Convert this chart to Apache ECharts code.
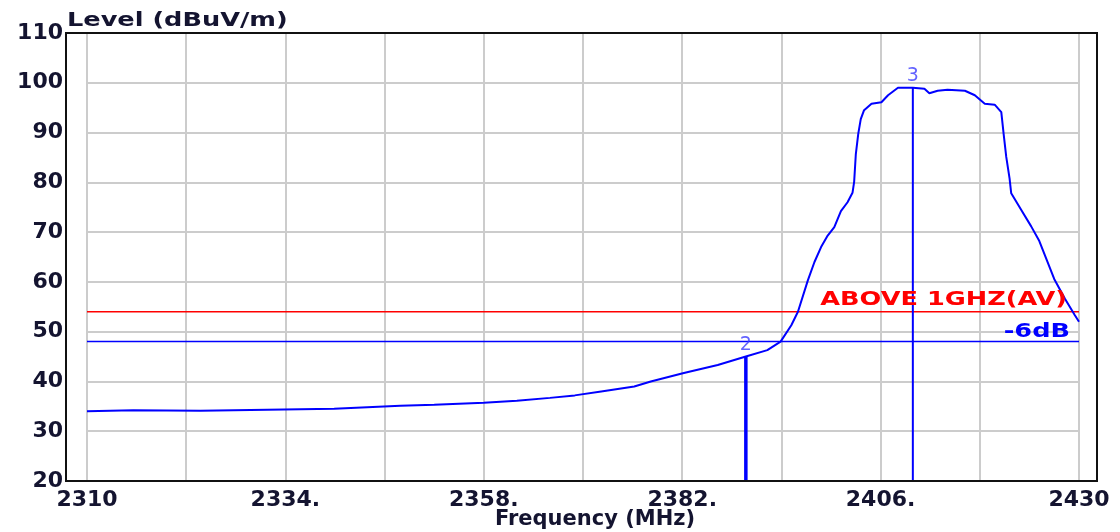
<!DOCTYPE html>
<html>
<head>
<meta charset="utf-8">
<script src="https://cdn.jsdelivr.net/npm/echarts@6/dist/echarts.min.js"></script>
<style>
html,body{margin:0;padding:0;background:#fff;}
#chart{width:1120px;height:532px;}
</style>
</head>
<body>
<div id="chart"></div>
<script>
// ---- data ----
var freqs = [2310, 2315.6, 2323.7, 2331.8, 2339.9, 2343.9, 2347.9, 2352, 2358, 2362, 2366, 2369, 2372.2, 2376.2, 2378.2, 2382.2, 2386.3, 2389.7, 2392.3, 2393.9, 2395.2, 2396.0, 2397.2, 2398.0, 2398.8, 2399.6, 2400.4, 2401.2, 2402.0, 2402.6, 2402.8, 2403.0, 2403.3, 2403.6, 2404.0, 2404.9, 2406.1, 2406.9, 2408.1, 2409.9, 2411.3, 2411.9, 2412.9, 2414.1, 2416.2, 2417.4, 2418.6, 2419.8, 2420.6, 2420.9, 2421.2, 2421.6, 2421.8, 2423.0, 2424.2, 2425.2, 2427.0, 2428.3, 2429.5, 2430.0];
var levels = [34.0, 34.2, 34.1, 34.3, 34.5, 34.8, 35.1, 35.3, 35.7, 36.1, 36.7, 37.2, 38.0, 39.0, 40.0, 41.7, 43.3, 45.0, 46.3, 48.0, 51.3, 54.0, 60.3, 64.0, 67.0, 69.3, 71.0, 74.2, 76.0, 77.9, 80.1, 85.6, 89.8, 92.7, 94.5, 95.8, 96.1, 97.5, 99.0, 99.0, 98.8, 97.9, 98.4, 98.6, 98.4, 97.5, 95.8, 95.6, 94.1, 89.5, 85.1, 80.8, 77.8, 74.5, 71.2, 68.2, 60.6, 56.6, 53.3, 52.0];
var markerNames = ['2', '3'];
var markerFreqs = [2389.7, 2409.9];
var markerLevels = [45.0, 99.0];
var limitLevel = 54;
var limitLabel = 'ABOVE 1GHZ(AV)';
var minus6Level = 48;
var minus6Label = '-6dB';
var xTickValues = [2310, 2334, 2358, 2382, 2406, 2430];
var xTickLabels = ['2310', '2334.', '2358.', '2382.', '2406.', '2430'];
var yTitle = 'Level (dBuV/m)';
var xTitle = 'Frequency (MHz)';

// ---- chart ----
var FONT = 'DejaVu Sans';
var TXT = '#141430';
var STRETCH = 1.28;
var XMIN = 2310, XMAX = 2430, YMIN = 20, YMAX = 110;
var chart = echarts.init(document.getElementById('chart'), null, {renderer: 'canvas'});
var curve = freqs.map(function (f, i) { return [f, levels[i]]; });

var series = [
  {
    type: 'line', data: curve, symbol: 'none', silent: true,
    lineStyle: {color: '#0000ff', width: 2}, z: 5
  },
  {
    type: 'line', silent: true, symbol: 'none', z: 3,
    data: [[XMIN, limitLevel], [XMAX, limitLevel]],
    lineStyle: {color: '#ff0000', width: 1.5}
  },
  {
    type: 'line', silent: true, symbol: 'none', z: 3,
    data: [[XMIN, minus6Level], [XMAX, minus6Level]],
    lineStyle: {color: '#0000ff', width: 1.5}
  }
];
markerFreqs.forEach(function (f, i) {
  series.push({
    type: 'line', silent: true, z: 4,
    data: [[f, YMIN], [f, markerLevels[i]]],
    symbol: 'none',
    lineStyle: {color: '#0000ff', width: i === 0 ? 3.5 : 2}
  });
});
series.push({
  type: 'scatter', silent: true, z: 6, symbolSize: 0,
  data: markerFreqs.map(function (f, i) { return {value: [f, markerLevels[i]], name: markerNames[i]}; }),
  label: {show: true, position: 'top', distance: 2, formatter: '{b}',
          color: '#3c3cff', fontFamily: FONT, fontSize: 19}
});

chart.setOption({
  animation: false,
  backgroundColor: '#ffffff',
  grid: {left: 87, right: 41, top: 33, bottom: 51, containLabel: false, outerBoundsMode: 'none'},
  xAxis: {
    type: 'value', min: XMIN, max: XMAX, interval: 12,
    name: xTitle, nameLocation: 'middle', nameGap: 28, nameMoveOverlap: false,
    nameTextStyle: {color: TXT, fontFamily: FONT, fontWeight: 'bold', fontSize: 21, padding: [0, 0, 0, 24]},
    axisLine: {show: false}, axisTick: {show: false},
    axisLabel: {
      color: TXT, fontFamily: FONT, fontWeight: 'bold', fontSize: 22, margin: 8,
      formatter: function (v) {
        var k = xTickValues.indexOf(Math.round(v));
        return k >= 0 ? xTickLabels[k] : '';
      }
    },
    splitLine: {show: true, lineStyle: {color: '#cccccc', width: 2}}
  },
  yAxis: {
    type: 'value', min: YMIN, max: YMAX, interval: 10,
    axisLine: {show: false}, axisTick: {show: false},
    axisLabel: {color: TXT, fontFamily: FONT, fontWeight: 'bold', fontSize: 22, margin: 24},
    splitLine: {show: true, lineStyle: {color: '#cccccc', width: 2}}
  },
  series: series
});

// texts placed from the axes' own scales
var pEnd = chart.convertToPixel({gridIndex: 0}, [XMAX, limitLevel]);
var p6 = chart.convertToPixel({gridIndex: 0}, [XMAX, minus6Level]);
var pTop = chart.convertToPixel({gridIndex: 0}, [XMIN, YMAX]);
var pBot = chart.convertToPixel({gridIndex: 0}, [XMAX, YMIN]);
var frameL = pTop[0] - 21, frameR = pBot[0] + 18;
chart.setOption({
  graphic: [
    {type: 'rect', z: 10, silent: true,
     shape: {x: frameL, y: pTop[1], width: frameR - frameL, height: pBot[1] - pTop[1]},
     style: {fill: null, stroke: '#111111', lineWidth: 2}},
    {type: 'text', z: 10, silent: true, x: frameL + 1, y: pTop[1] - 12, scaleX: STRETCH,
     style: {text: yTitle, fill: TXT, font: 'bold 20px "DejaVu Sans"', align: 'left', verticalAlign: 'middle'}},
    {type: 'text', z: 10, silent: true, x: pEnd[0] - 12, y: pEnd[1] - 12, scaleX: STRETCH,
     style: {text: limitLabel, fill: '#ff0000', font: 'bold 20px "DejaVu Sans"', align: 'right', verticalAlign: 'middle'}},
    {type: 'text', z: 10, silent: true, x: p6[0] - 9, y: p6[1] - 10, scaleX: STRETCH,
     style: {text: minus6Label, fill: '#0000ff', font: 'bold 20px "DejaVu Sans"', align: 'right', verticalAlign: 'middle'}}
  ]
});
</script>
</body>
</html>
